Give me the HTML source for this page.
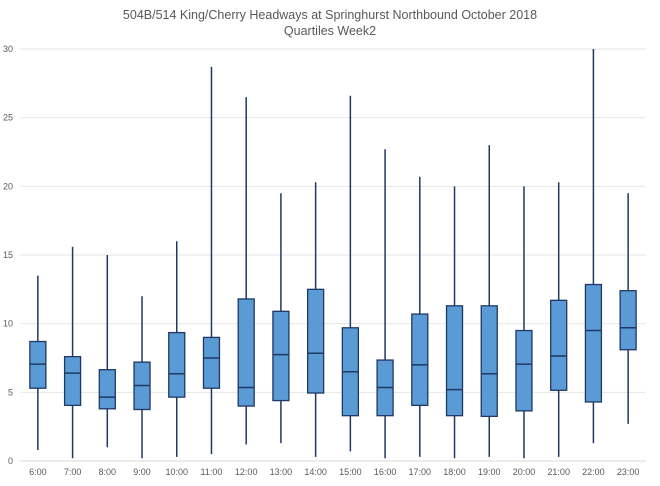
<!DOCTYPE html>
<html><head><meta charset="utf-8"><style>
body{margin:0;background:#fff;}
svg text{font-family:"Liberation Sans",sans-serif;fill:#595959;}
</style></head><body>
<svg id="chart" width="660" height="481">
<text x="330" y="19" font-size="12.5" text-anchor="middle">504B/514 King/Cherry Headways at Springhurst Northbound October 2018</text>
<text x="330" y="35" font-size="12.5" text-anchor="middle">Quartiles Week2</text>
<g id="grid"></g><g id="boxes"></g><g id="xlabels"></g>
</svg>
<script>
const categories=["6:00","7:00","8:00","9:00","10:00","11:00","12:00","13:00","14:00","15:00","16:00","17:00","18:00","19:00","20:00","21:00","22:00","23:00"];
const mins=[0.8,0.2,1.0,0.2,0.3,0.5,1.2,1.3,0.3,0.7,0.2,0.3,0.2,0.3,0.2,0.3,1.3,2.7];
const q1s=[5.3,4.05,3.8,3.75,4.65,5.3,4.0,4.4,4.95,3.3,3.3,4.05,3.3,3.25,3.65,5.15,4.3,8.1];
const medians=[7.05,6.4,4.65,5.5,6.35,7.5,5.35,7.75,7.85,6.5,5.35,7.0,5.2,6.35,7.05,7.65,9.5,9.7];
const q3s=[8.7,7.6,6.65,7.2,9.35,9.0,11.8,10.9,12.5,9.7,7.35,10.7,11.3,11.3,9.5,11.7,12.85,12.4];
const maxs=[13.5,15.6,15.0,12.0,16.0,28.7,26.5,19.5,20.3,26.6,22.7,20.7,20.0,23.0,20.0,20.3,30,19.5];
const yTicks=[0,5,10,15,20,25,30];
const NS="http://www.w3.org/2000/svg";
const x0=20.5,x1=645.5,yBot=461,yTop=49,yMax=30;
const step=(x1-x0)/categories.length;
const xs=i=>x0+step*(i+0.5);
const ys=v=>yBot-(v/yMax)*(yBot-yTop);
function mk(tag,attrs,parent){const e=document.createElementNS(NS,tag);for(const k in attrs)e.setAttribute(k,attrs[k]);parent.appendChild(e);return e;}
const grid=document.getElementById('grid'),boxes=document.getElementById('boxes'),xl=document.getElementById('xlabels');
yTicks.forEach(t=>{
 const l=mk('line',{x1:x0,x2:x1,y1:ys(t),y2:ys(t),stroke:t===0?'#d9d9d9':'#e6e6e6','stroke-width':1},grid);
 
 
 const tx=mk('text',{x:13,y:ys(t)+3,'font-size':9,'text-anchor':'end'},grid);
 tx.textContent=t;
 
 
});
categories.forEach((c,i)=>{
 const cx=xs(i),w=16;
 const g=mk('g',{},boxes);
 
 
 mk('line',{x1:cx,x2:cx,y1:ys(maxs[i]),y2:ys(mins[i]),stroke:'#1f3864','stroke-width':1.5},g);
 mk('rect',{x:cx-w/2,y:ys(q3s[i]),width:w,height:ys(q1s[i])-ys(q3s[i]),fill:'#5b9bd5',stroke:'#1f3864','stroke-width':1.3},g);
 mk('line',{x1:cx-w/2,x2:cx+w/2,y1:ys(medians[i]),y2:ys(medians[i]),stroke:'#1f3864','stroke-width':1.5},g);
 const t=mk('text',{x:cx,y:475,'font-size':9,'text-anchor':'middle'},xl);
 t.textContent=c;
 
 
});
</script>
</body></html>
